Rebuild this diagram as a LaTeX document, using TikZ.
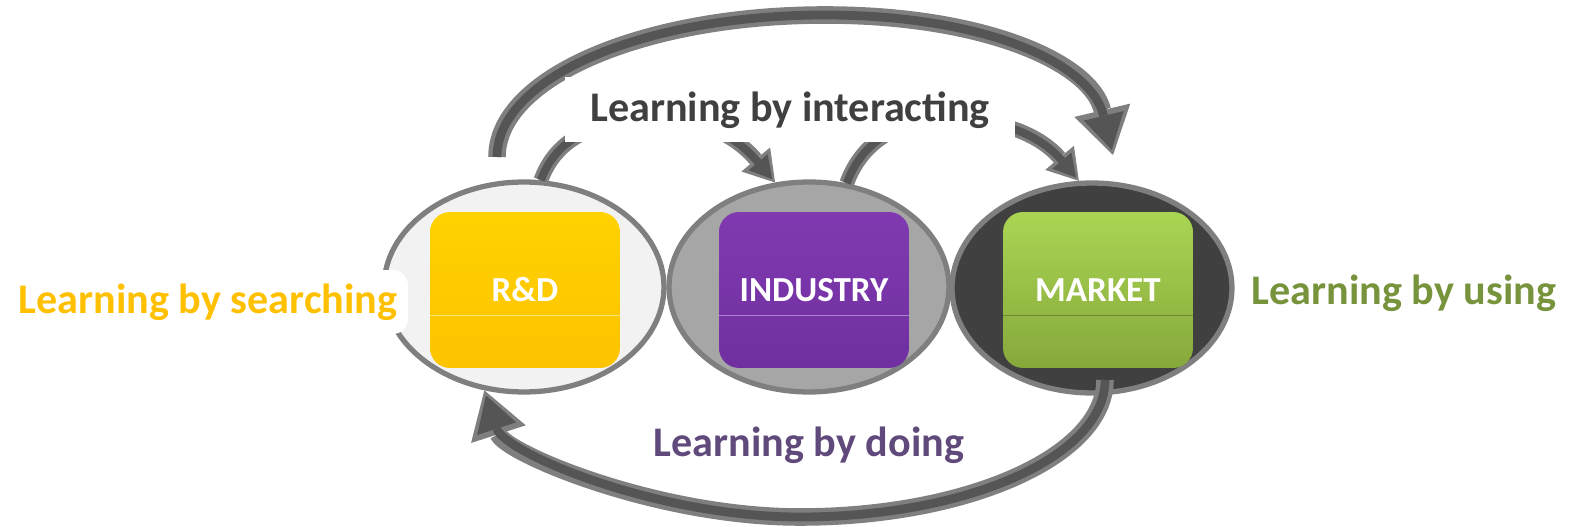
\documentclass[tikz,border=0pt]{standalone}
\usepackage{fontspec}
\setmainfont{Carlito}
\usetikzlibrary{arrows.meta,shapes.geometric}
\definecolor{ringedge}{HTML}{7F7F7F}
\definecolor{arrowfill}{HTML}{555555}
\definecolor{rdring}{HTML}{F2F2F2}
\definecolor{indring}{HTML}{A6A6A6}
\definecolor{mktring}{HTML}{404040}
\definecolor{rdtop}{HTML}{FFD200}
\definecolor{rdbot}{HTML}{FDC300}
\definecolor{indtop}{HTML}{8039B0}
\definecolor{indbot}{HTML}{7030A0}
\definecolor{mkttop}{HTML}{AAD553}
\definecolor{mktbot}{HTML}{86A83B}
\definecolor{searchcol}{HTML}{FFC000}
\definecolor{usingcol}{HTML}{77933C}
\definecolor{interactcol}{HTML}{404040}
\definecolor{doingcol}{HTML}{604A7B}

\tikzset{
  ring/.style={ellipse, draw=ringedge, line width=3pt, minimum width=5.6cm, minimum height=4.2cm, inner sep=0pt},
  block/.style={rounded corners=0.4cm, minimum width=3.8cm, minimum height=3.12cm, text=white, font=\fontsize{20}{24}\selectfont\bfseries},
  lbl/.style={font=\fontsize{24}{28}\selectfont\bfseries},
  bigout/.style={draw=ringedge, line width=10pt, -{Triangle[length=0.92cm,width=1.15cm,line width=0pt]}},
  bigin/.style={draw=arrowfill, line width=5pt, shorten >=3pt, -{Triangle[length=0.7cm,width=0.82cm,line width=0pt]}},
  smallout/.style={draw=ringedge, line width=8.5pt, -{Triangle[length=0.6cm,width=0.75cm,line width=0pt]}},
  smallin/.style={draw=arrowfill, line width=4.5pt, shorten >=2.5pt, -{Triangle[length=0.44cm,width=0.5cm,line width=0pt]}},
}

\begin{document}
\begin{tikzpicture}[x=0.02cm, y=0.02cm]
\useasboundingbox (0,0) rectangle (1570,527);
%rings
\node[ring, fill=rdring] (rdring) at (524,240) {};
\node[ring, fill=indring] (indring) at (809,240) {};
\node[ring, fill=mktring] (mktring) at (1092,239) {};

%arrow coordinates
\coordinate (topstart) at (497,370); \coordinate (topmid) at (825,512); \coordinate (topend) at (1113,372);
\coordinate (botstart) at (1105,147); \coordinate (botmid) at (800,10);
\coordinate (lefttop) at (660,408); \coordinate (righttop) at (950,408);

%big arrows
\draw[bigout] (topstart) .. controls +(0,80) and +(-180,0) .. (topmid) .. controls +(160,0) and +(-22,92) .. (topend);
\draw[bigin] (topstart) .. controls +(0,80) and +(-180,0) .. (topmid) .. controls +(160,0) and +(-22,92) .. (topend);
\draw[bigout] (botstart) .. controls +(0,-76) and +(168,0) .. (botmid) .. controls +(-145,0) and +(20,-62) .. (rdring.-111);
\draw[bigin] (botstart) .. controls +(0,-76) and +(168,0) .. (botmid) .. controls +(-145,0) and +(20,-62) .. (rdring.-111);
%small arrows
\draw[smallout] (rdring.81) to[out=70,in=180] (lefttop) to[out=0,in=130] (indring.108);
\draw[smallin] (rdring.81) to[out=70,in=180] (lefttop) to[out=0,in=130] (indring.108);
\draw[smallout] (indring.70) to[out=70,in=180] (righttop) to[out=0,in=130] (mktring.97);
\draw[smallin] (indring.70) to[out=70,in=180] (righttop) to[out=0,in=130] (mktring.97);

%blocks
\node[block, top color=rdtop, bottom color=rdbot] (rd) at (525,237) {R\&D};
\node[block, top color=indtop, bottom color=indbot] (ind) at (814,237) {INDUSTRY};
\node[block, top color=mkttop, bottom color=mktbot] (mkt) at (1098,237) {MARKET};
\draw[white, opacity=.5, line width=.5pt] ([yshift=-0.5cm]rd.west) -- ([yshift=-0.5cm]rd.east);
\draw[white, opacity=.4, line width=.5pt] ([yshift=-0.5cm]ind.west) -- ([yshift=-0.5cm]ind.east);
\draw[black, opacity=.25, line width=.5pt] ([yshift=-0.5cm]mkt.west) -- ([yshift=-0.5cm]mkt.east);

%labels
\node[lbl, text=searchcol, fill=white, rounded corners=0.3cm, minimum width=8cm, minimum height=1.28cm] (search) at (208,225) {Learning by searching};
\node[lbl, text=usingcol] (using) at (1404,234) {Learning by using};
\node[lbl, text=interactcol, fill=white, minimum width=9cm, minimum height=1.3cm] (interact) at (790,417) {Learning by interacting};
\node[lbl, text=doingcol] (doing) at (809,82) {Learning by doing};
\end{tikzpicture}
\end{document}
